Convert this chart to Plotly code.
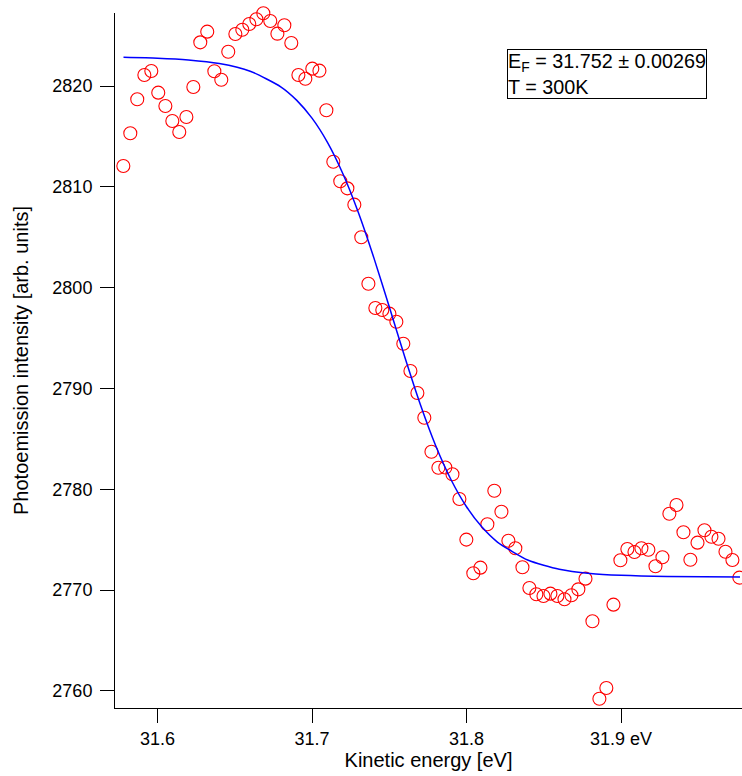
import plotly.graph_objects as go

# Measured data: kinetic energy [eV] and photoemission intensity [arb. units]
energy = [
    31.5779, 31.5824, 31.5869, 31.5915, 31.5960, 31.6005, 31.6051, 31.6096, 31.6141, 31.6187,
    31.6232, 31.6277, 31.6322, 31.6368, 31.6413, 31.6458, 31.6504, 31.6549, 31.6594, 31.6640,
    31.6685, 31.6730, 31.6776, 31.6821, 31.6866, 31.6912, 31.6957, 31.7002, 31.7048, 31.7093,
    31.7138, 31.7183, 31.7229, 31.7274, 31.7319, 31.7365, 31.7410, 31.7455, 31.7501, 31.7546,
    31.7591, 31.7637, 31.7682, 31.7727, 31.7773, 31.7818, 31.7863, 31.7909, 31.7954, 31.7999,
    31.8044, 31.8090, 31.8135, 31.8180, 31.8226, 31.8271, 31.8316, 31.8362, 31.8407, 31.8452,
    31.8498, 31.8543, 31.8588, 31.8634, 31.8679, 31.8724, 31.8770, 31.8815, 31.8860, 31.8905,
    31.8951, 31.8996, 31.9041, 31.9087, 31.9132, 31.9177, 31.9223, 31.9268, 31.9313, 31.9359,
    31.9404, 31.9449, 31.9495, 31.9540, 31.9585, 31.9631, 31.9676, 31.9721, 31.9766,
]
intensity = [
    2812.07, 2815.31, 2818.68, 2821.09, 2821.49, 2819.34, 2818.02, 2816.53, 2815.44, 2816.93,
    2819.90, 2824.33, 2825.39, 2821.46, 2820.62, 2823.40, 2825.16, 2825.58, 2826.15, 2826.62,
    2827.21, 2826.45, 2825.19, 2826.02, 2824.26, 2821.09, 2820.72, 2821.72, 2821.52, 2817.59,
    2812.49, 2810.55, 2809.85, 2808.23, 2805.00, 2800.39, 2797.98, 2797.78, 2797.42, 2796.62,
    2794.43, 2791.73, 2789.55, 2787.10, 2783.73, 2782.14, 2782.16, 2781.49, 2779.04, 2775.01,
    2771.67, 2772.23, 2776.53, 2779.86, 2777.78, 2774.90, 2774.15, 2772.27, 2770.21, 2769.59,
    2769.42, 2769.65, 2769.42, 2769.09, 2769.49, 2770.08, 2771.14, 2766.91, 2759.23, 2760.30,
    2768.56, 2772.96, 2774.08, 2773.78, 2774.15, 2774.01, 2772.37, 2773.26, 2777.58, 2778.45,
    2775.74, 2773.02, 2774.71, 2775.94, 2775.30, 2775.10, 2773.81, 2772.99, 2771.24,
]

# Fermi-edge fit curve
fit_energy = [
    31.578, 31.60, 31.62, 31.64, 31.66, 31.68, 31.69, 31.70, 31.71, 31.72,
    31.73, 31.74, 31.75, 31.76, 31.77, 31.78, 31.79, 31.80, 31.81, 31.82,
    31.84, 31.86, 31.88, 31.90, 31.93, 31.977,
]
fit_intensity = [
    2822.84, 2822.76, 2822.59, 2822.23, 2821.47, 2819.90, 2818.60, 2816.81, 2814.41, 2811.30,
    2807.46, 2802.98, 2798.10, 2793.14, 2788.46, 2784.35, 2780.95, 2778.27, 2776.25, 2774.77,
    2772.96, 2772.08, 2771.66, 2771.47, 2771.35, 2771.31,
]

x_tickvals = [31.6, 31.7, 31.8, 31.9]
x_ticktext = ["31.6", "31.7", "31.8", "31.9 eV"]
y_tickvals = [2760, 2770, 2780, 2790, 2800, 2810, 2820]
y_ticktext = ["2760", "2770", "2780", "2790", "2800", "2810", "2820"]

FONT = "Liberation Sans, Arial, Helvetica, sans-serif"

fig = go.Figure()
fig.add_trace(go.Scatter(
    x=energy, y=intensity, mode="markers",
    marker=dict(symbol="circle-open", size=13, color="#ff0000", line=dict(width=1.1, color="#ff0000")),
    cliponaxis=False,
    showlegend=False,
))
fig.add_trace(go.Scatter(
    x=fit_energy, y=fit_intensity, mode="lines",
    line=dict(color="#0000ff", width=1.5, shape="spline", smoothing=0.6),
    showlegend=False,
))

fig.add_annotation(
    xref="paper", yref="paper", x=0.6252, y=0.948, xanchor="left", yanchor="top",
    text="E<sub>F</sub> = 31.752 ± 0.00269<br>T = 300K",
    align="left", showarrow=False,
    font=dict(family=FONT, size=19.8, color="black"),
    bordercolor="black", borderwidth=1, borderpad=0, bgcolor="white",
)

fig.update_layout(
    width=742, height=776,
    margin=dict(l=115, r=0, t=13, b=68),
    paper_bgcolor="white", plot_bgcolor="white",
    font=dict(family=FONT, size=18, color="black"),
    xaxis=dict(
        range=[31.5725, 31.9783], showgrid=False, zeroline=False,
        showline=True, linecolor="black", linewidth=1,
        ticks="outside", ticklen=14, tickwidth=1, tickcolor="black",
        tickvals=x_tickvals, ticktext=x_ticktext,
        tickfont=dict(family=FONT, size=18),
        title=dict(text="Kinetic energy [eV]", font=dict(family=FONT, size=20), standoff=5),
        automargin=False,
    ),
    yaxis=dict(
        range=[2758.31, 2827.24], showgrid=False, zeroline=False,
        showline=True, linecolor="black", linewidth=1,
        ticks="outside", ticklen=14, tickwidth=1, tickcolor="black",
        tickvals=y_tickvals, ticktext=y_ticktext,
        tickfont=dict(family=FONT, size=18), ticklabelstandoff=4,
        title=dict(text="Photoemission intensity [arb. units]", font=dict(family=FONT, size=20), standoff=18),
        automargin=False,
    ),
)

fig.write_html(
    "out.html",
    config={"displayModeBar": False},
    post_script="document.body.style.margin='0';document.body.style.overflow='hidden';",
)
